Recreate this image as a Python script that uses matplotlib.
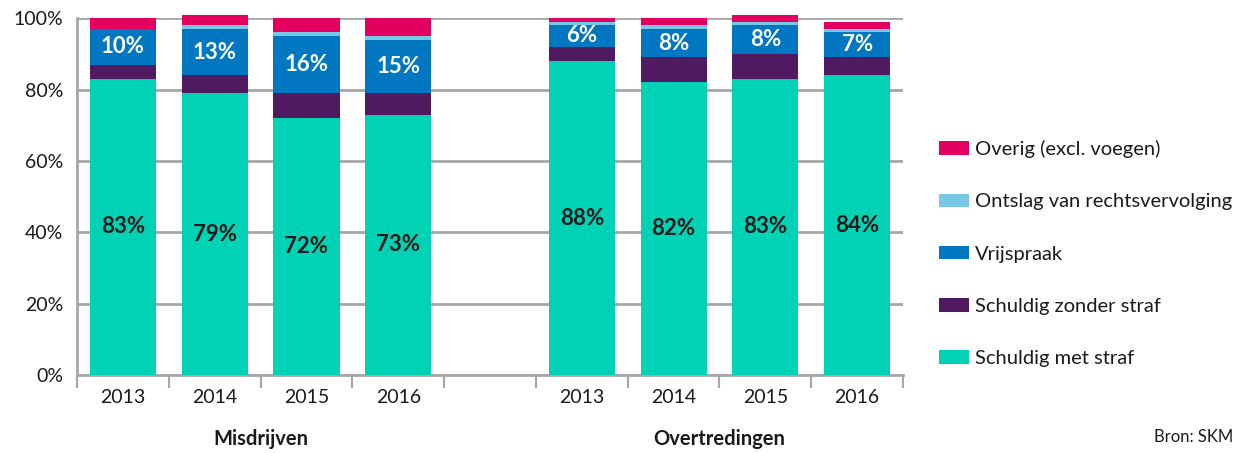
import matplotlib.pyplot as plt
from matplotlib.patches import Patch
import numpy as np

plt.rcParams['font.family'] = ['Lato', 'DejaVu Sans']

years = ['2013', '2014', '2015', '2016', '2013', '2014', '2015', '2016']
groups = ['Misdrijven', 'Overtredingen']
# Misdrijven 2013-2016, then Overtredingen 2013-2016 (percentages)
met_straf = [83, 79, 72, 73, 88, 82, 83, 84]
zonder_straf = [4, 5, 7, 6, 4, 7, 7, 5]
vrijspraak = [10, 13, 16, 15, 6, 8, 8, 7]
ontslag = [0, 1, 1, 1, 1, 1, 1, 1]
overig = [3, 3, 4, 5, 1, 2, 2, 2]

series = [met_straf, zonder_straf, vrijspraak, ontslag, overig]
names = ['Schuldig met straf', 'Schuldig zonder straf', 'Vrijspraak',
         'Ontslag van rechtsvervolging', 'Overig (excl. voegen)']
colors = ['#00D2B5', '#4F1A60', '#0077C0', '#76C8E6', '#E4005E']

x = np.array([0, 1, 2, 3, 5, 6, 7, 8])

fig = plt.figure(figsize=(12.49, 4.53), dpi=100)
ax = fig.add_axes([0.0617, 0.172, 0.6613, 0.788])

grid_c = '#A6A6A6'
bottom = np.zeros(len(x))
for vals, col in zip(series, colors):
    ax.bar(x, vals, bottom=bottom, width=0.72, color=col, zorder=3, clip_on=False)
    bottom += np.array(vals)

# labels
for xi, v in zip(x, met_straf):
    ax.text(xi, v / 2, f'{v}%', ha='center', va='center', fontsize=16,
            fontweight='bold', color='#1a1a1a', zorder=4)
for xi, b, zs, vs in zip(x, met_straf, zonder_straf, vrijspraak):
    ax.text(xi, b + zs + vs / 2, f'{vs}%', ha='center', va='center', fontsize=16,
            fontweight='bold', color='white', zorder=4)

ax.set_xlim(-0.5, 8.5)
ax.set_ylim(0, 100)
ax.set_yticks([0, 20, 40, 60, 80, 100])
ax.set_yticklabels([f'{v}%' for v in [0, 20, 40, 60, 80, 100]], fontsize=14, color='#1a1a1a')
ax.tick_params(axis='y', length=0, pad=10)
ax.yaxis.grid(True, color=grid_c, linewidth=2, zorder=0)

ax.set_xticks(x)
ax.set_xticklabels(years, fontsize=14, color='#1a1a1a')
ax.set_xticks(np.arange(-0.5, 9, 1), minor=True)
ax.tick_params(axis='x', which='major', length=0, pad=10)
ax.tick_params(axis='x', which='minor', length=9, width=1.5, color=grid_c)

for s in ['top', 'right']:
    ax.spines[s].set_visible(False)
for s in ['left', 'bottom']:
    ax.spines[s].set_color(grid_c)
    ax.spines[s].set_linewidth(2)

ax.text(1.5, -0.18, groups[0], transform=ax.get_xaxis_transform(), ha='center',
        va='center', fontsize=14.5, fontweight='bold', color='#1a1a1a')
ax.text(6.5, -0.18, groups[1], transform=ax.get_xaxis_transform(), ha='center',
        va='center', fontsize=14.5, fontweight='bold', color='#1a1a1a')

fig.text(0.987, 0.018, 'Bron: SKM', ha='right', va='bottom', fontsize=12, color='#1a1a1a')

handles = [Patch(facecolor=c) for c in colors][::-1]
fig.legend(handles, names[::-1], loc='center left', bbox_to_anchor=(0.737, 0.44),
           frameon=False, fontsize=14.5, labelspacing=1.75, handlelength=1.5,
           handleheight=0.65, handletextpad=0.3, labelcolor='#1a1a1a')

fig.savefig('out.png', dpi=100)
